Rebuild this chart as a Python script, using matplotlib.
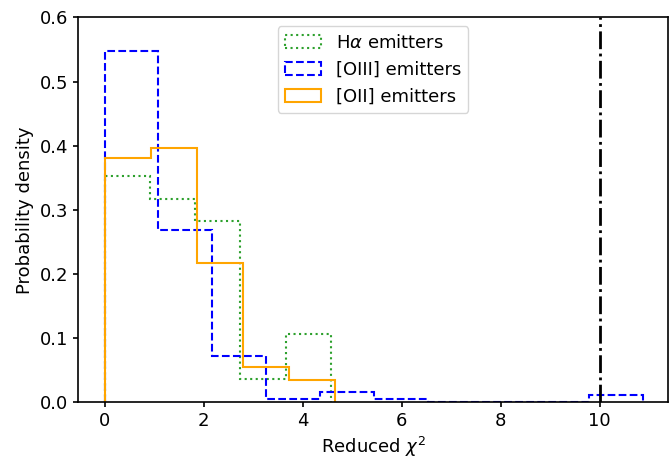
import numpy as np
import matplotlib
matplotlib.use("Agg")
import matplotlib.pyplot as plt

# binned reduced chi^2 distributions (probability density per bin)
ha_edges = [0.0, 0.915, 1.83, 2.745, 3.66, 4.575]
ha_density = [0.353, 0.317, 0.282, 0.036, 0.106]

oiii_edges = [0.0, 1.087, 2.174, 3.261, 4.348, 5.435, 6.522, 7.609, 8.696, 9.783, 10.87]
oiii_density = [0.548, 0.269, 0.072, 0.0047, 0.015, 0.0047, 0.0, 0.0, 0.0, 0.0104]

oii_edges = [0.0, 0.932, 1.864, 2.796, 3.728, 4.66]
oii_density = [0.380, 0.396, 0.217, 0.055, 0.035]

CHI2_CUT = 10

plt.rcParams["font.size"] = 13
plt.rcParams["axes.linewidth"] = 1.2
plt.rcParams["xtick.major.width"] = 1.2
plt.rcParams["ytick.major.width"] = 1.2

fig, ax = plt.subplots(figsize=(6.69, 4.59), dpi=100)
fig.subplots_adjust(left=0.117, right=0.998, top=0.962, bottom=0.124)


def step_hist(edges, dens, **kw):
    edges = np.asarray(edges)
    centres = 0.5 * (edges[:-1] + edges[1:])
    ax.hist(centres, bins=edges, weights=dens, histtype="step", linewidth=1.5, **kw)


step_hist(ha_edges, ha_density, color="tab:green", linestyle=":", label=r"H$\alpha$ emitters")
step_hist(oiii_edges, oiii_density, color="blue", linestyle="--", label="[OIII] emitters")
step_hist(oii_edges, oii_density, color="orange", linestyle="-", label="[OII] emitters")

ax.axvline(CHI2_CUT, color="black", linestyle="-.", linewidth=2)

ax.set_xlim(-0.53, 11.37)
ax.set_ylim(0, 0.6)
ax.set_xlabel(r"Reduced $\chi^2$")
ax.set_ylabel("Probability density")
ax.legend(loc="upper center")

fig.savefig("out.png", dpi=100)
